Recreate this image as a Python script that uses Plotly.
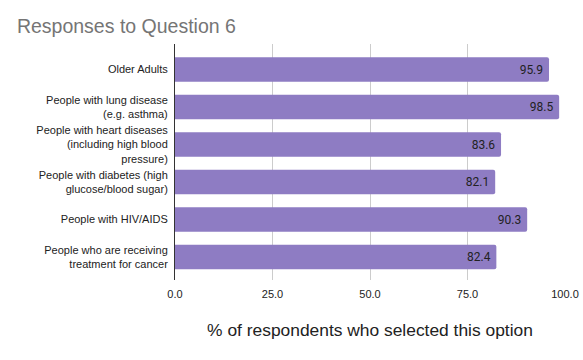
import plotly.graph_objects as go

categories = [
    "Older Adults",
    "People with lung disease<br>(e.g. asthma)",
    "People with heart diseases<br>(including high blood<br>pressure)",
    "People with diabetes (high<br>glucose/blood sugar)",
    "People with HIV/AIDS",
    "People who are receiving<br>treatment for cancer",
]
values = [95.9, 98.5, 83.6, 82.1, 90.3, 82.4]
tick_vals = [0, 25, 50, 75, 100]
tick_text = ["0.0", "25.0", "50.0", "75.0", "100.0"]

fig = go.Figure(go.Bar(
    x=values,
    y=categories,
    orientation="h",
    marker=dict(color="#8e7cc3", cornerradius=2, line=dict(width=0)),
    text=[f"{v:.1f}\u00a0" for v in values],
    textposition="inside",
    insidetextanchor="end",
    textfont=dict(family="Roboto, Arial, sans-serif", size=12, color="#222222"),
    cliponaxis=False,
))

fig.update_layout(
    width=583, height=360,
    margin=dict(l=175, r=18, t=44, b=80),
    paper_bgcolor="white", plot_bgcolor="white",
    bargap=0.35,
    showlegend=False,
    title=dict(text="Responses to Question 6", x=0.029, xanchor="left", y=0.928, yanchor="middle",
               font=dict(family="Arial, Liberation Sans, sans-serif", size=19.5, color="#757575")),
    font=dict(family="Arial, Liberation Sans, sans-serif", size=11, color="#222222"),
)
fig.update_xaxes(
    range=[0, 100], tickvals=tick_vals, ticktext=tick_text, automargin=False,
    showgrid=True, gridcolor="#cccccc", gridwidth=1, zeroline=False,
    tickfont=dict(size=11, color="#222222"), ticklabelstandoff=6,
    title=dict(text="% of respondents who selected this option",
               font=dict(size=17.4, color="#222222"), standoff=24),
    ticks="", ticklen=0,
)
fig.update_yaxes(
    range=[5.613, -0.68], showline=True, linecolor="#333333", linewidth=1,
    ticks="", ticklabelstandoff=4, automargin=False,
    tickfont=dict(size=11, color="#222222"),
)

fig.write_html("out.html", post_script="document.body.style.margin='0';",
               config={"displayModeBar": False})
